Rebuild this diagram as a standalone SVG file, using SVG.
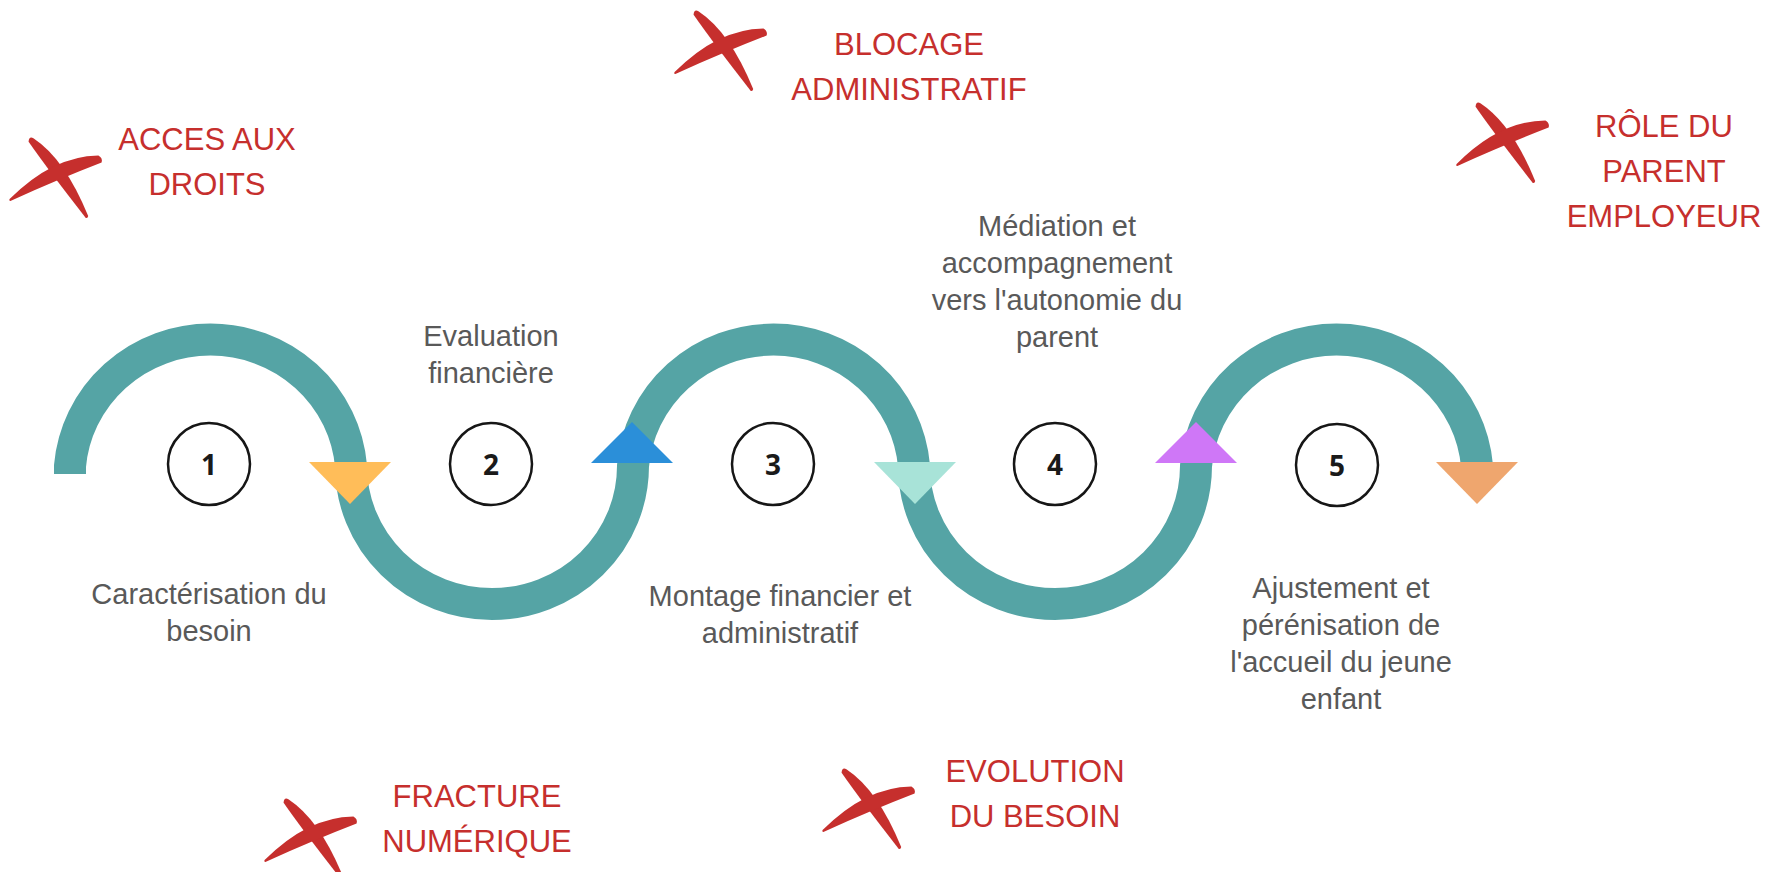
<svg xmlns="http://www.w3.org/2000/svg" xmlns:xlink="http://www.w3.org/1999/xlink" width="1781" height="872" viewBox="0 0 1781 872">
  <style>
    .wave { fill: none; stroke: #55A4A5; stroke-width: 32; }
    .step { fill: #ffffff; stroke: #161616; stroke-width: 2.5; }
    .num { font-family: "Open Sans", "Liberation Sans", sans-serif; font-weight: bold; font-size: 28px; fill: #1a1a1a; text-anchor: middle; }
    .lbl { font-family: "Liberation Sans", Arial, sans-serif; font-size: 29px; fill: #595959; text-anchor: middle; }
    .risk { font-family: "Liberation Sans", Arial, sans-serif; font-size: 31px; fill: #C62F2D; text-anchor: middle; }
    .mark { fill: #C62F2D; }
  </style>
  <defs>
    <g id="cross">
      <path class="mark" d="M -23.6,-31.8 Q 8.1,-10.9 31.2,46.1 Q 30.8,48.5 28.8,47.9 Q -8.1,0.9 -28.4,-28.2 Q -28,-34 -23.6,-31.8 Z"/>
      <path class="mark" d="M -47.4,29.1 Q -4.9,-13.9 41.4,-14.6 Q 46,-12 44.6,-7.4 Q 4.9,7.9 -46.6,30.9 Q -48.5,31 -47.4,29.1 Z"/>
    </g>
  </defs>
  <rect width="1781" height="872" fill="#ffffff"/>

  <g id="connectors">
    <path class="wave" d="M 70,474 V 466 A 141 138 0 0 1 351,466 A 141 138 0 0 0 633,466 A 141 138 0 0 1 914,466 A 141 138 0 0 0 1196,466 A 141 138 0 0 1 1477,466"/>
    <polygon fill="#FFBD59" points="309,462 391,462 350,504"/>
    <polygon fill="#2B8FD9" points="591,463 673,463 632,422"/>
    <polygon fill="#A8E3D8" points="874,462 956,462 915,504"/>
    <polygon fill="#CF77F7" points="1155,463 1237,463 1196,422"/>
    <polygon fill="#EFA66E" points="1436,462 1518,462 1477,504"/>
  </g>

  <g id="step1">
    <circle class="step" cx="209" cy="464" r="41"/>
    <text class="num" x="209" y="475">1</text>
    <text class="lbl" x="209" y="604">Caractérisation du</text>
    <text class="lbl" x="209" y="641">besoin</text>
  </g>
  <g id="step2">
    <circle class="step" cx="491" cy="464" r="41"/>
    <text class="num" x="491" y="475">2</text>
    <text class="lbl" x="491" y="346">Evaluation</text>
    <text class="lbl" x="491" y="383">financière</text>
  </g>
  <g id="step3">
    <circle class="step" cx="773" cy="464" r="41"/>
    <text class="num" x="773" y="475">3</text>
    <text class="lbl" x="780" y="606">Montage financier et</text>
    <text class="lbl" x="780" y="643">administratif</text>
  </g>
  <g id="step4">
    <circle class="step" cx="1055" cy="464" r="41"/>
    <text class="num" x="1055" y="475">4</text>
    <text class="lbl" x="1057" y="236">Médiation et</text>
    <text class="lbl" x="1057" y="273">accompagnement</text>
    <text class="lbl" x="1057" y="310">vers l'autonomie du</text>
    <text class="lbl" x="1057" y="347">parent</text>
  </g>
  <g id="step5">
    <circle class="step" cx="1337" cy="465" r="41"/>
    <text class="num" x="1337" y="476">5</text>
    <text class="lbl" x="1341" y="598">Ajustement et</text>
    <text class="lbl" x="1341" y="635">pérénisation de</text>
    <text class="lbl" x="1341" y="672">l'accueil du jeune</text>
    <text class="lbl" x="1341" y="709">enfant</text>
  </g>

  <g id="risk-acces">
    <use xlink:href="#cross" x="57" y="170"/>
    <text class="risk" x="207" y="150">ACCES AUX</text>
    <text class="risk" x="207" y="195">DROITS</text>
  </g>
  <g id="risk-blocage">
    <use xlink:href="#cross" x="722" y="43"/>
    <text class="risk" x="909" y="55">BLOCAGE</text>
    <text class="risk" x="909" y="100">ADMINISTRATIF</text>
  </g>
  <g id="risk-role">
    <use xlink:href="#cross" x="1504" y="135"/>
    <text class="risk" x="1664" y="137">RÔLE DU</text>
    <text class="risk" x="1664" y="182">PARENT</text>
    <text class="risk" x="1664" y="227">EMPLOYEUR</text>
  </g>
  <g id="risk-fracture">
    <use xlink:href="#cross" x="312" y="831"/>
    <text class="risk" x="477" y="807">FRACTURE</text>
    <text class="risk" x="477" y="852">NUMÉRIQUE</text>
  </g>
  <g id="risk-evolution">
    <use xlink:href="#cross" x="870" y="801"/>
    <text class="risk" x="1035" y="782">EVOLUTION</text>
    <text class="risk" x="1035" y="827">DU BESOIN</text>
  </g>
</svg>
